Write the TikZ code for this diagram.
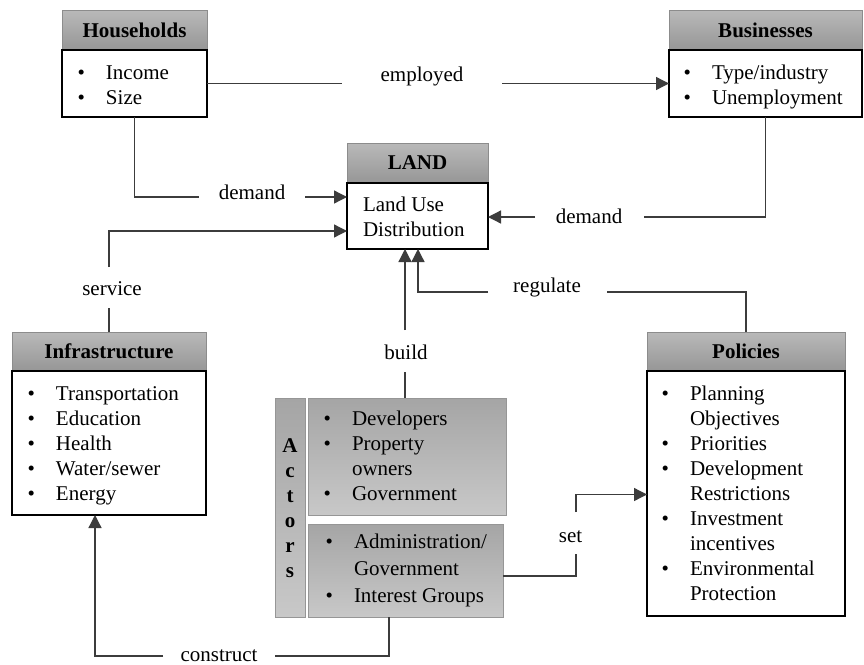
\documentclass[tikz,border=0pt]{standalone}
\usepackage{fontspec}
\setmainfont{Liberation Serif}
\usetikzlibrary{arrows.meta,calc}
\definecolor{lncol}{RGB}{60,60,60}
\definecolor{hdrline}{RGB}{140,140,140}
\definecolor{hdrtop}{RGB}{185,185,185}
\definecolor{hdrbot}{RGB}{150,150,150}
\definecolor{actline}{RGB}{150,150,150}
\definecolor{acttop}{RGB}{165,165,165}
\definecolor{actbot}{RGB}{200,200,200}
\newcommand\bitem[1]{\makebox[28.5pt][l]{\textbullet}#1\strut}
\newcommand\citem[1]{\hspace*{28.5pt}#1\strut}
\begin{document}
\begin{tikzpicture}[x=1pt,y=-1pt,
 every node/.style={inner sep=0pt, outer sep=0pt, font=\fontsize{21}{25}\selectfont},
 hdr/.style={draw=hdrline, line width=0.8pt, top color=hdrtop, bottom color=hdrbot, font=\fontsize{21}{25}\selectfont\bfseries},
 bodybox/.style={draw=black, line width=1.4pt, fill=white},
 actbox/.style={draw=actline, line width=0.8pt, top color=acttop, bottom color=actbot},
 lst/.style={anchor=north west, align=left},
 lbl/.style={anchor=base},
 ln/.style={draw=lncol, line width=1.3pt},
 arr/.style={ln, -{Triangle[length=13pt,width=13pt]}}
]
\useasboundingbox[fill=white] (0,0) rectangle (864,664);

% Households
\node[hdr, minimum width=145pt, minimum height=40pt] (hhh) at (134.5,30) {Households};
\node[bodybox, minimum width=145pt, minimum height=67pt] (hhb) at (134.5,83.5) {};
\node[lst] (hhl) at (77.5,61.5) {\bitem{Income}\\\bitem{Size}};

% Businesses
\node[hdr, minimum width=193pt, minimum height=40pt] (buh) at (765.5,30) {Businesses};
\node[bodybox, minimum width=193pt, minimum height=67pt] (bub) at (765.5,83.5) {};
\node[lst] (bul) at (683.5,61.5) {\bitem{Type/industry}\\\bitem{Unemployment}};

% LAND
\node[hdr, minimum width=141pt, minimum height=40pt] (lh) at (417.5,163) {LAND};
\node[bodybox, minimum width=141pt, minimum height=66pt] (lb) at (417.5,216) {};
\node[lst] (ll) at (363,193.5) {Land Use\strut\\Distribution\strut};

% Infrastructure
\node[hdr, minimum width=194pt, minimum height=39pt] (infh) at (109,351.5) {Infrastructure};
\node[bodybox, minimum width=194pt, minimum height=144pt] (infb) at (109,443) {};
\node[lst] (infl) at (27.5,382.5) {\bitem{Transportation}\\\bitem{Education}\\\bitem{Health}\\\bitem{Water/sewer}\\\bitem{Energy}};

% Policies
\node[hdr, minimum width=198pt, minimum height=39pt] (polh) at (746,351.5) {Policies};
\node[bodybox, minimum width=198pt, minimum height=245pt] (polb) at (746,493.5) {};
\node[lst] (poll) at (661.5,382.5) {\bitem{Planning}\\\citem{Objectives}\\\bitem{Priorities}\\\bitem{Development}\\\citem{Restrictions}\\\bitem{Investment}\\\citem{incentives}\\\bitem{Environmental}\\\citem{Protection}};

% Actors
\node[actbox, minimum width=30pt, minimum height=219pt] (abar) at (290,507.5) {};
\node[align=center, font=\fontsize{21}{25}\selectfont\bfseries] (alet) at (290,508.5) {A\\c\\t\\o\\r\\s};
\node[actbox, minimum width=198pt, minimum height=117pt] (au) at (407,456.5) {};
\node[lst] (aul) at (323.5,408.2) {\bitem{Developers}\\\bitem{Property}\\\citem{owners}\\\bitem{Government}};
\node[actbox, minimum width=195pt, minimum height=93pt] (al) at (405.5,570.5) {};
\node[lst, font=\fontsize{21}{27}\selectfont] (all) at (325.5,529.1) {\bitem{Administration/}\\\citem{Government}\\\bitem{Interest Groups}};

% labels
\node[lbl] (temp) at (422,81) {employed};
\node[lbl] (thd) at (252,199) {demand};
\node[lbl] (tbd) at (589,223) {demand};
\node[lbl] (tsv) at (112,295) {service};
\node[lbl] (tbu) at (406,359) {build};
\node[lbl] (trg) at (547,292.5) {regulate};
\node[lbl] (tst) at (570.5,542) {set};
\node[lbl] (tcn) at (219,661) {construct};

% free ends
\coordinate (e1) at (342,83.5);
\coordinate (e2) at (502,83.5);
\coordinate (hd0) at (134.5,197);
\coordinate (hd1) at (199,197);
\coordinate (hd2) at (305,197);
\coordinate (bd0) at (765.5,217);
\coordinate (bd1) at (644,217);
\coordinate (bd2) at (535,217);
\coordinate (sv1) at (109,308);
\coordinate (sv2) at (109,267);
\coordinate (bu1) at (405,330);
\coordinate (bu2) at (405,372);
\coordinate (rg1) at (488,292);
\coordinate (rg2) at (607,292);
\coordinate (st1) at (576,554);
\coordinate (st2) at (576,512);
\coordinate (cn0) at (389,656);
\coordinate (cn1) at (275,656);
\coordinate (cn2) at (163,656);

% connectors
\draw[ln] (hhb.east) -- (e1);
\draw[arr] (e2) -- (bub.west);

\draw[ln] (hhb.south) -- (hd0) -- (hd1);
\draw[arr] (hd2) -- (hd2 -| lb.west);

\draw[ln] (bub.south) -- (bd0) -- (bd1);
\draw[arr] (bd2) -- (bd2 -| lb.east);

\draw[ln] (infh.north) -- (sv1);
\draw[arr] (sv2) |- ($(lb.west)+(0,15)$);

\draw[arr] (bu1) -- (bu1 |- lb.south);
\draw[ln] (bu2) -- (bu2 |- au.north);

\draw[arr] (rg1) -| ($(lb.south)+(0.5,0)$);
\draw[ln] (rg2) -| (polh.north);

\draw[ln] ($(al.east)+(0,5.5)$) -| (st1);
\draw[arr] (st2) |- ($(polb.west)+(0,1)$);

\draw[ln] (cn0 |- al.south) -- (cn0) -- (cn1);
\draw[arr] (cn2) -| ($(infb.south)+(-14,0)$);
\end{tikzpicture}
\end{document}
